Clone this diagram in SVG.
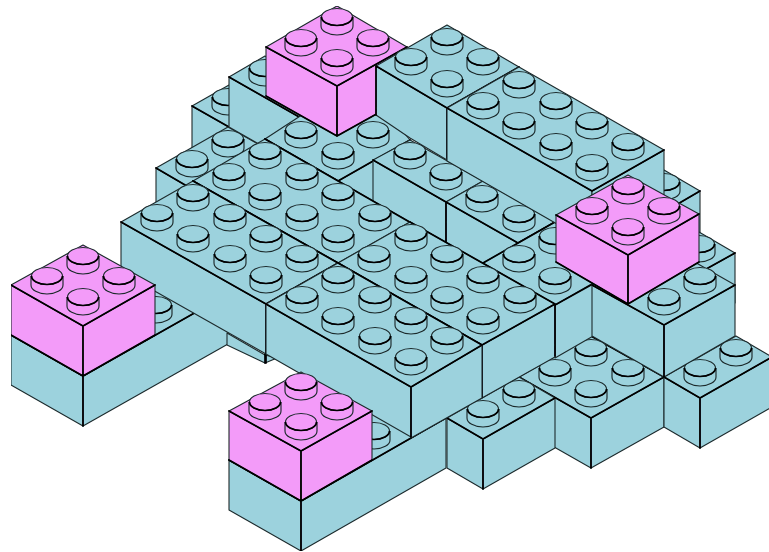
<svg xmlns="http://www.w3.org/2000/svg" width="769" height="552" viewBox="0 0 769 552">
<style>
.b{fill:#9cd2dd}.p{fill:#f39bf9}
.f{stroke:#1c2a2c;stroke-width:1.1;stroke-linejoin:round}
.e{fill:none;stroke:#000;stroke-width:1.7;stroke-linejoin:round;stroke-linecap:round}
.t{stroke:#1c2a2c;stroke-width:1.15}
.k{fill:none;stroke:#000;stroke-width:1.7}
</style>
<defs>
<filter id="soft" x="0" y="0" width="100%" height="100%"><feGaussianBlur stdDeviation="0.5"/></filter>
<g id="s">
<path class="t" d="M-16,-8.5V0A16,9 0 0 0 16,0V-8.5Z"/>
<ellipse class="t" cy="-9" rx="15.5" ry="8.5"/>
<path class="k" d="M-15.5,-9A15.5,8.5 0 0 0 15.5,-9"/>
</g>
</defs>
<rect width="769" height="552" fill="#fff"/>
<g filter="url(#soft)">
<g id="brick-n" class="b">
<path class="f" d="M664,212L700,191V241L664,262Z"/><path class="f" d="M628,191L664,170L700,191L664,212Z"/>
<path class="e" d="M664,212L700,191"/><use href="#s" x="664" y="191"/>
</g>
<g id="brick-m" class="b">
<path class="f" d="M699,273L735,253V303L699,323Z"/><path class="f" d="M663,253L699,232L735,253L699,273Z"/>
<path class="e" d="M699,273L735,253"/><use href="#s" x="699" y="253"/>
</g>
<g id="brick-c" class="b">
<path class="f" d="M192,106L229,127V177L192,156Z"/><path class="f" d="M192,106L229,85L265,106L229,127Z"/>
<path class="e" d="M192,106L229,127"/><use href="#s" x="228" y="106"/>
</g>
<g id="brick-v" class="b">
<path class="f" d="M156,168L192,189V239L156,218Z"/><path class="f" d="M156,168L228,127L265,148L192,189Z"/>
<path class="e" d="M156,168L192,189"/><use href="#s" x="228" y="148"/><use href="#s" x="192" y="168"/>
</g>
<g id="brick-g" class="b">
<path class="f" d="M11,335L83,376V426L11,385Z"/><path class="f" d="M83,376L228,294V344L83,426Z"/>
<path class="f" d="M11,335L156,252L228,294L83,376Z"/><path class="e" d="M11,335L83,376L228,294M83,376V426"/>
<use href="#s" x="156" y="314"/>
</g>
<g id="brick-h1" class="b">
<path class="f" d="M229,460L301,501V551L229,510Z"/><path class="f" d="M301,501L446,418V468L301,551Z"/>
<path class="f" d="M229,460L373,377L446,418L301,501Z"/><path class="e" d="M229,460L301,501L446,418M301,501V551"/>
<use href="#s" x="374" y="440"/>
</g>
<g id="brick-i" class="b">
<path class="f" d="M519,377L591,418V468L519,427Z"/><path class="f" d="M591,418L664,377V427L591,468Z"/>
<path class="f" d="M519,377L591,336L664,377L591,418Z"/><path class="e" d="M519,377L591,418L664,377M591,418V468M591,336L664,377"/>
<use href="#s" x="591" y="357"/><use href="#s" x="555" y="377"/><use href="#s" x="628" y="377"/><use href="#s" x="591" y="398"/>
</g>
<g id="brick-h" class="b">
<path class="f" d="M447,418L483,439V489L447,468Z"/><path class="f" d="M483,439L555,398V448L483,489Z"/>
<path class="f" d="M447,418L519,377L555,398L483,439Z"/><path class="e" d="M447,418L483,439L555,398M483,439V489"/>
<use href="#s" x="519" y="398"/><use href="#s" x="483" y="418"/>
</g>
<g id="brick-j" class="b">
<path class="f" d="M664,377L700,398V448L664,427Z"/><path class="f" d="M700,398L772,357V407L700,448Z"/>
<path class="f" d="M664,377L736,336L772,357L700,398Z"/><path class="e" d="M664,377L700,398L772,357M700,398V448"/>
<use href="#s" x="736" y="357"/><use href="#s" x="700" y="377"/>
</g>
<g id="sliver" class="b">
<path class="f" d="M227,333L265,355L277,358L265,363L227,345Z"/>
<path class="e" d="M265,354V363"/>
</g>
<g id="brick-b" class="b">
<path class="f" d="M229,77L301,118V168L229,127Z"/><path class="f" d="M229,77L265,56L337,97L301,118Z"/>
<path class="e" d="M229,77L301,118"/><use href="#s" x="265" y="77"/>
</g>
<g id="brick-u" class="b">
<path class="f" d="M338,181L410,140V190L338,231Z"/><path class="f" d="M265,139L337,92L400,128L410,140L338,181Z"/>
<path class="e" d="M265,139L338,181L410,140"/>
<use href="#s" x="301" y="139"/><use href="#s" x="373" y="139"/><use href="#s" x="338" y="160"/>
</g>
<g id="pink-top" class="p">
<path class="f" d="M266,47L337,86V136L266,96Z"/><path class="f" d="M337,86L407,47V97L337,136Z"/>
<path class="f" d="M266,47L337,6L407,47L337,86Z"/><path class="e" d="M266,47L337,86L407,47M337,86V136L266,96M337,136L407,97"/>
<use href="#s" x="337" y="26"/><use href="#s" x="301" y="47"/><use href="#s" x="373" y="47"/><use href="#s" x="337" y="67"/>
</g>
<g id="brick-s" class="b">
<path class="f" d="M373,160L446,202V252L373,210Z"/><path class="f" d="M373,160L410,140L483,181L446,202Z"/>
<path class="e" d="M373,160L446,202"/><use href="#s" x="410" y="160"/><use href="#s" x="446" y="181"/>
</g>
<g id="brick-q" class="b">
<path class="f" d="M446,202L518,243V293L446,252Z"/><path class="f" d="M446,202L483,181L555,222L518,243Z"/>
<path class="e" d="M446,202L518,243L555,222M446,202V243"/><use href="#s" x="482" y="203"/><use href="#s" x="519" y="223"/>
</g>
<g id="brick-z" class="b">
<path class="f" d="M555,305L628,263V316L555,358Z"/><path class="f" d="M483,263L555,222L628,263L555,305Z"/>
<path class="e" d="M483,263L555,222M555,305L591,285"/>
<use href="#s" x="555" y="245"/><use href="#s" x="519" y="263"/><use href="#s" x="555" y="285"/>
</g>
<g id="brick-k" class="b">
<path class="f" d="M592,285L664,325V377L592,336Z"/><path class="f" d="M664,325L735,285V336L664,377Z"/>
<path class="f" d="M592,285L663,244L735,285L664,325Z"/><path class="e" d="M592,285L664,325L735,285M664,325V377"/>
<use href="#s" x="700" y="285"/><use href="#s" x="664" y="306"/>
</g>
<g id="brick-w" class="b">
<path class="f" d="M193,181L265,139L410,222L338,263Z"/><path class="e" d="M193,181L338,263M265,139L446,243"/>
<use href="#s" x="265" y="160"/><use href="#s" x="229" y="181"/><use href="#s" x="302" y="181"/><use href="#s" x="265" y="201"/><use href="#s" x="338" y="201"/><use href="#s" x="302" y="222"/><use href="#s" x="375" y="222"/><use href="#s" x="338" y="243"/>
</g>
<g id="brick-x" class="b">
<path class="f" d="M482,345L555,304V357L482,398Z"/><path class="f" d="M338,263L410,222L555,304L482,345Z"/>
<path class="e" d="M338,263L482,345L555,304M410,222L555,304M482,345V397M555,304V356"/>
<use href="#s" x="411" y="242"/><use href="#s" x="374" y="263"/><use href="#s" x="447" y="263"/><use href="#s" x="411" y="284"/><use href="#s" x="483" y="284"/><use href="#s" x="447" y="304"/><use href="#s" x="520" y="304"/><use href="#s" x="483" y="325"/>
</g>
<g id="brick-e" class="b">
<path class="f" d="M121,222L266,304V354L121,272Z"/><path class="f" d="M121,222L193,181L338,263L266,304Z"/>
<path class="e" d="M121,222L266,304L338,263M266,304V363M193,181L338,263"/>
<use href="#s" x="193" y="202"/><use href="#s" x="157" y="222"/><use href="#s" x="230" y="222"/><use href="#s" x="193" y="243"/><use href="#s" x="266" y="243"/><use href="#s" x="230" y="263"/><use href="#s" x="302" y="263"/><use href="#s" x="266" y="284"/>
</g>
<g id="brick-f" class="b">
<path class="f" d="M266,304L411,387V437L266,354Z"/><path class="f" d="M411,387L482,345V398L411,438Z"/>
<path class="f" d="M266,304L338,263L482,345L411,387Z"/><path class="e" d="M266,304L411,387L482,345M411,387V437M338,263L482,345"/>
<use href="#s" x="338" y="284"/><use href="#s" x="302" y="304"/><use href="#s" x="375" y="304"/><use href="#s" x="338" y="325"/><use href="#s" x="411" y="325"/><use href="#s" x="375" y="345"/><use href="#s" x="447" y="345"/><use href="#s" x="411" y="366"/>
</g>
<g id="brick-a1" class="b">
<path class="f" d="M376,66L447,108V160L410,138L376,115Z"/><path class="f" d="M376,66L447,25L519,67L447,108Z"/>
<path class="e" d="M376,66L447,108L519,67M447,108V158M376,66V115"/>
<use href="#s" x="447" y="46"/><use href="#s" x="411" y="66"/><use href="#s" x="483" y="66"/><use href="#s" x="447" y="88"/>
</g>
<g id="brick-a2" class="b">
<path class="f" d="M447,108L592,191V244L447,161Z"/><path class="f" d="M592,191L664,150V200L592,241Z"/>
<path class="f" d="M447,108L519,67L664,150L592,191Z"/><path class="e" d="M447,108L592,191L664,150"/>
<use href="#s" x="519" y="89"/><use href="#s" x="483" y="110"/><use href="#s" x="556" y="110"/><use href="#s" x="519" y="130"/><use href="#s" x="592" y="130"/><use href="#s" x="556" y="151"/><use href="#s" x="628" y="151"/><use href="#s" x="592" y="172"/>
</g>
<g id="pink-right" class="p">
<path class="f" d="M556,215L628,255V304L556,262Z"/><path class="f" d="M628,255L699,214V262L628,304Z"/>
<path class="f" d="M556,215L628,175L699,214L628,255Z"/><path class="e" d="M556,215L628,255L699,214M628,255V304L556,262M628,304L699,262"/>
<use href="#s" x="628" y="195"/><use href="#s" x="592" y="215"/><use href="#s" x="664" y="215"/><use href="#s" x="628" y="236"/>
</g>
<g id="pink-left" class="p">
<path class="f" d="M11,285L83,326V376L11,335Z"/><path class="f" d="M83,326L155,285V335L83,376Z"/>
<path class="f" d="M11,285L83,245L155,285L83,326Z"/><path class="e" d="M11,285L83,326L155,285M83,326V376L11,335M83,376L155,335"/>
<use href="#s" x="83" y="265"/><use href="#s" x="47" y="285"/><use href="#s" x="119" y="285"/><use href="#s" x="83" y="306"/>
</g>
<g id="pink-front" class="p">
<path class="f" d="M229,411L301,451V501L229,460Z"/><path class="f" d="M301,451L372,411V460L301,501Z"/>
<path class="f" d="M229,411L301,372L372,411L301,451Z"/><path class="e" d="M229,411L301,451L372,411M301,451V501L229,460M301,501L372,460"/>
<use href="#s" x="301" y="391"/><use href="#s" x="265" y="411"/><use href="#s" x="337" y="411"/><use href="#s" x="301" y="431"/>
</g>
</g>
</svg>
